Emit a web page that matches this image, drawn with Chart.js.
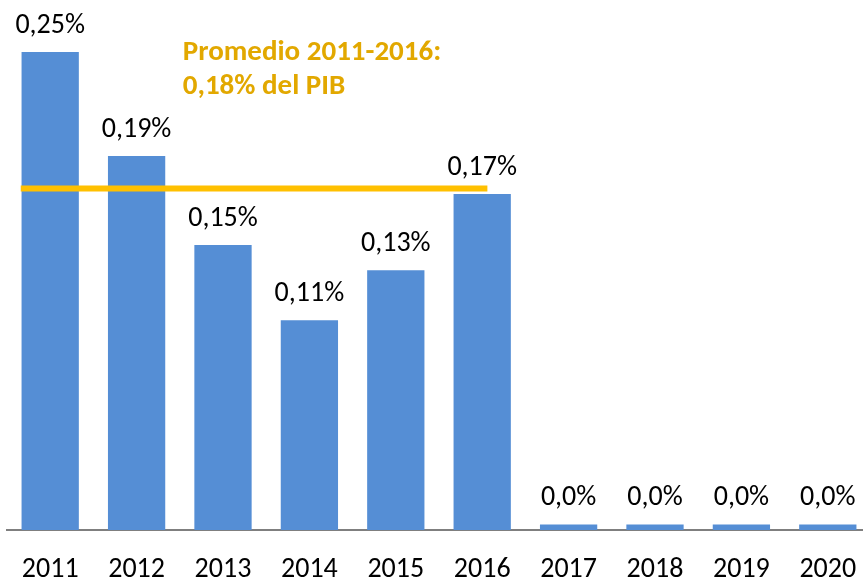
<!DOCTYPE html>
<html>
<head>
<meta charset="utf-8">
<script src="https://cdn.jsdelivr.net/npm/chart.js@4.4.1/dist/chart.umd.min.js"></script>
<style>
  html, body { margin: 0; padding: 0; background: #ffffff; overflow: hidden; }
  #wrap { width: 871px; height: 579px; position: relative; }
</style>
</head>
<body>
<div id="wrap"><canvas id="c"></canvas></div>
<script>
// ---- data ----
const years = ['2011','2012','2013','2014','2015','2016','2017','2018','2019','2020'];
const gastoPIB = [0.25, 0.1956, 0.149, 0.1097, 0.1358, 0.1757, 0.0029, 0.0029, 0.0029, 0.0029];
const valueLabels = ['0,25%','0,19%','0,15%','0,11%','0,13%','0,17%','0,0%','0,0%','0,0%','0,0%'];
const promedioValue = 0.1786;
const promedioFromYear = 2010.659;
const promedioToYear = 2016.06;
const promedioText = ['Promedio 2011-2016:', '0,18% del PIB'];

const FONT = 'Carlito, Lato, "Open Sans", sans-serif';

const labelPlugin = {
  id: 'valueLabels',
  afterDatasetsDraw(chart) {
    const ctx = chart.ctx;
    const meta = chart.getDatasetMeta(1);
    ctx.save();
    ctx.font = '28px ' + FONT;
    ctx.fillStyle = '#000000';
    ctx.textAlign = 'center';
    ctx.textBaseline = 'alphabetic';
    meta.data.forEach((bar, i) => {
      ctx.fillText(valueLabels[i], bar.x, bar.y - 19);
    });
    // annotation text
    ctx.font = 'bold 29px ' + FONT;
    ctx.fillStyle = '#E2A800';
    ctx.textAlign = 'left';
    const xs = chart.scales.x2;
    const tx = xs.getPixelForValue(2012.534);
    ctx.fillText(promedioText[0], tx, 60);
    ctx.fillText(promedioText[1], tx, 94);
    ctx.restore();
  }
};

new Chart(document.getElementById('c'), {
  data: {
    labels: years,
    datasets: [
      {
        type: 'line',
        data: [{x: promedioFromYear, y: promedioValue}, {x: promedioToYear, y: promedioValue}],
        xAxisID: 'x2',
        borderColor: '#FFC000',
        borderWidth: 6,
        pointRadius: 0,
        fill: false,
        order: 0
      },
      {
        type: 'bar',
        data: gastoPIB,
        xAxisID: 'x',
        backgroundColor: '#558ED5',
        borderWidth: 0,
        grouped: false,
        categoryPercentage: 1,
        barPercentage: 0.663,
        order: 1
      }
    ]
  },
  options: {
    responsive: true,
    maintainAspectRatio: false,
    animation: false,
    layout: { padding: { left: 7, right: 0, top: 0, bottom: 0 } },
    plugins: { legend: { display: false }, tooltip: { enabled: false } },
    scales: {
      x: {
        type: 'category',
        grid: { display: false, drawTicks: false },
        border: { display: true, color: '#7F7F7F', width: 2 },
        ticks: { color: '#000000', font: { family: FONT, size: 28 }, padding: 23, maxRotation: 0, autoSkip: false },
        afterFit: (scale) => { scale.height = 49; scale.paddingLeft = 0; scale.paddingRight = 0; }
      },
      x2: {
        type: 'linear',
        display: false,
        min: 2010.5,
        max: 2020.5
      },
      y: {
        display: false,
        min: 0,
        max: 0.2772
      }
    }
  },
  plugins: [labelPlugin]
});
</script>
</body>
</html>
